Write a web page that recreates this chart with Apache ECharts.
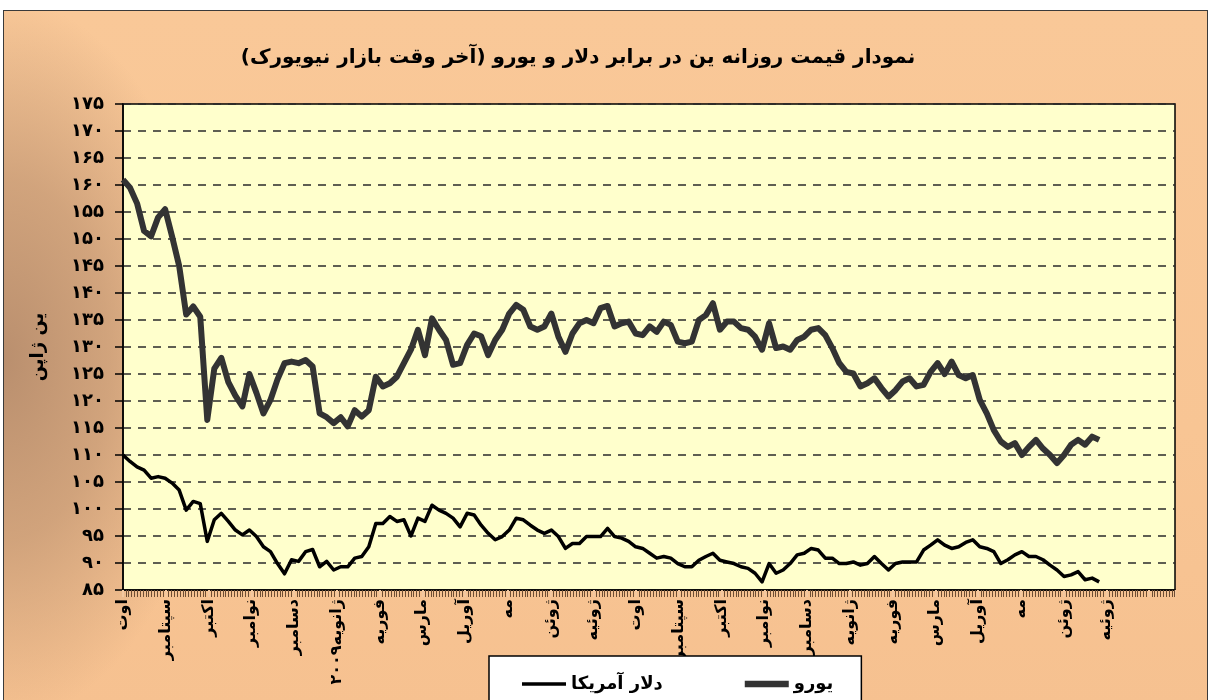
<!DOCTYPE html>
<html>
<head>
<meta charset="utf-8">
<title>Yen vs Dollar and Euro</title>
<script src="https://cdn.jsdelivr.net/npm/echarts@6/dist/echarts.min.js"></script>
<style>
  html, body { margin: 0; padding: 0; background: #fff; }
  #frame {
    position: absolute; left: 3px; top: 10px; width: 1205px; height: 700px;
    border: 1.5px solid #3a3a3a; box-sizing: border-box;
    background:
      radial-gradient(ellipse 210px 360px at 0% 50%, rgba(182, 140, 108, 0.95) 0%, rgba(196, 152, 116, 0.75) 50%, rgba(247, 197, 148, 0) 100%),
      linear-gradient(180deg, #f9c898 0%, #f8c594 60%, #f6c190 100%);
  }
  #main { position: absolute; left: 0; top: 0; width: 1213px; height: 700px; }
</style>
</head>
<body>
<div id="frame"></div>
<div id="main"></div>
<script>
// one sample every 5 days, starting 1 Aug 2008
var startLabel = '2008-08-01';
var stepDays = 5;

var monthLabels = ['اوت', 'سپتامبر', 'اکتبر', 'نوامبر', 'دسامبر', 'ژانویه۲۰۰۹', 'فوریه', 'مارس',
  'آوریل', 'مه', 'ژوئن', 'ژوئیه', 'اوت', 'سپتامبر', 'اکتبر', 'نوامبر', 'دسامبر', 'ژانویه',
  'فوریه', 'مارس', 'آوریل', 'مه', 'ژوئن', 'ژوئیه'];

var persianDigits = ['۰', '۱', '۲', '۳', '۴', '۵', '۶', '۷', '۸', '۹'];

var euroValues = [
  161, 159.5, 156.6, 151.5, 150.5, 154, 155.5, 150.4, 145, 136,
  137.5, 135.6, 116.5, 126, 128, 123.5, 121, 119, 125, 121.5,
  117.7, 120.2, 124, 127, 127.3, 127, 127.6, 126.4, 117.7, 117,
  115.9, 117, 115.3, 118.3, 117.1, 118.3, 124.5, 122.7, 123.3, 124.5,
  127, 129.5, 133.2, 128.5, 135.3, 133.2, 131.3, 126.7, 127, 130.4,
  132.5, 132, 128.5, 131.3, 133.2, 136.2, 137.8, 136.9, 133.8, 133.2,
  133.8, 136.2, 131.9, 129.1, 132.5, 134.4, 135, 134.4, 137.2, 137.6,
  133.8, 134.4, 134.7, 132.5, 132.2, 133.8, 132.8, 134.7, 134.1, 131,
  130.7, 131, 135, 135.9, 138.1, 133.2, 134.7, 134.7, 133.5, 133.2,
  131.9, 129.5, 134.4, 129.8, 130.1, 129.5, 131.3, 131.9, 133.2, 133.5,
  132.2, 129.8, 127, 125.4, 125.1, 122.7, 123.3, 124.2, 122.4, 120.8,
  122, 123.6, 124.2, 122.7, 123, 125.4, 127, 125, 127.3, 124.8,
  124.2, 124.8, 120.2, 117.7, 114.6, 112.5, 111.5, 112.2, 110, 111.5,
  112.8, 111.2, 110, 108.5, 110, 111.9, 112.8, 111.9, 113.4, 112.8
];

var usdValues = [
  110, 108.8, 107.8, 107.2, 105.7, 106, 105.7, 104.8, 103.5, 99.8,
  101.4, 101, 94, 98, 99.2, 97.7, 96.1, 95.2, 96.1, 94.9,
  93, 92.1, 89.9, 88, 90.6, 90.3, 92.1, 92.5, 89.3, 90.3,
  88.7, 89.3, 89.3, 90.9, 91.2, 93, 97.3, 97.3, 98.6, 97.7,
  98, 95, 98.3, 97.7, 100.7, 99.8, 99.2, 98.3, 96.7, 99.2,
  98.9, 97, 95.5, 94.3, 94.9, 96.1, 98.3, 98, 97, 96.1,
  95.5, 96.1, 94.9, 92.7, 93.6, 93.6, 94.9, 94.9, 94.9, 96.4,
  94.9, 94.6, 94, 93, 92.7, 91.8, 90.9, 91.2, 90.9, 89.9,
  89.3, 89.3, 90.5, 91.2, 91.8, 90.5, 90.2, 89.9, 89.3, 89,
  88.1, 86.5, 89.9, 88.1, 88.7, 89.9, 91.5, 91.8, 92.7, 92.4,
  90.9, 90.9, 89.9, 89.9, 90.2, 89.6, 89.9, 91.2, 89.9, 88.7,
  89.9, 90.2, 90.2, 90.2, 92.4, 93.3, 94.3, 93.3, 92.7, 93,
  93.8, 94.3, 93, 92.7, 92.1, 89.9, 90.6, 91.5, 92.1, 91.2,
  91.2, 90.6, 89.6, 88.7, 87.5, 87.8, 88.4, 86.9, 87.2, 86.5
];

var seriesNames = ['دلار آمریکا', 'یورو'];
var titleText = 'نمودار قیمت روزانه ین در برابر دلار و یورو (آخر وقت بازار نیویورک)';
var yAxisName = 'ین ژاپن';

var monthDays = 30.4375;
var FONT = 'DejaVu Sans';

function toPersian(n) {
  return String(n).replace(/\d/g, function (d) { return persianDigits[+d]; });
}

function pairs(values) {
  return values.map(function (v, i) { return [i * stepDays, v]; });
}

var chart = echarts.init(document.getElementById('main'), null, { renderer: 'canvas' });

chart.setOption({
  backgroundColor: 'transparent',
  animation: false,
  textStyle: { fontFamily: FONT },
  title: {
    text: '\u200F' + titleText + '\u200F',
    left: 573,
    top: 43,
    textAlign: 'center',
    textStyle: { fontFamily: FONT, fontSize: 20, fontWeight: 'bold', color: '#000' }
  },
  legend: {
    data: [
      { name: seriesNames[0], icon: 'path://M0,0H40V3H0Z' },
      { name: seriesNames[1], icon: 'path://M0,0H40V6H0Z' }
    ],
    left: 489,
    top: 656,
    padding: [19, 28, 20, 33],
    itemGap: 82,
    itemWidth: 44,
    itemHeight: 12,
    symbolKeepAspect: true,
    backgroundColor: '#ffffff',
    borderColor: '#000',
    borderWidth: 1.5,
    borderRadius: 0,
    textStyle: { fontFamily: FONT, fontSize: 18, fontWeight: 'bold', color: '#000' }
  },
  grid: {
    left: 123, right: 38, top: 104, bottom: 110,
    show: true,
    backgroundColor: '#ffffcc',
    borderColor: '#000',
    borderWidth: 1.5
  },
  xAxis: {
    type: 'value',
    min: 0,
    max: 749,
    interval: monthDays,
    axisLine: { show: true, onZero: false, lineStyle: { color: '#000', width: 1.5 } },
    axisTick: { show: true, length: 7, lineStyle: { color: '#f3c8a0', width: 2 } },
    minorTick: { show: true, splitNumber: 15, length: 7, lineStyle: { color: '#6e4e34', width: 1 } },
    splitLine: { show: false },
    axisLabel: {
      rotate: 90,
      margin: 9,
      fontFamily: FONT,
      fontSize: 16,
      fontWeight: 'bold',
      color: '#000',
      formatter: function (v) {
        var k = v / monthDays;
        if (Math.abs(k - Math.round(k)) > 0.01) return '';
        return monthLabels[Math.round(k)] || '';
      }
    }
  },
  yAxis: {
    type: 'value',
    min: 85,
    max: 175,
    interval: 5,
    name: yAxisName,
    nameLocation: 'middle',
    nameRotate: 90,
    nameGap: 76,
    nameTextStyle: { fontFamily: FONT, fontSize: 18, fontWeight: 'bold', color: '#000' },
    axisLine: { show: true, lineStyle: { color: '#000', width: 1.5 } },
    axisTick: { show: true, length: 8, lineStyle: { color: '#000', width: 1.5 } },
    axisLabel: {
      margin: 19,
      fontFamily: FONT,
      fontSize: 18,
      fontWeight: 'bold',
      color: '#000',
      formatter: function (v) { return toPersian(v); }
    },
    splitLine: { show: true, lineStyle: { color: '#2a2a2a', width: 1.5, type: [8, 7] } }
  },
  series: [
    {
      name: seriesNames[0],
      type: 'line',
      data: pairs(usdValues),
      symbol: 'none',
      lineStyle: { color: '#000', width: 3.5, join: 'round' },
      itemStyle: { color: '#000' },
      z: 3
    },
    {
      name: seriesNames[1],
      type: 'line',
      data: pairs(euroValues),
      symbol: 'none',
      lineStyle: { color: '#333333', width: 6, join: 'round' },
      itemStyle: { color: '#333333' },
      z: 2
    }
  ]
});
</script>
</body>
</html>
